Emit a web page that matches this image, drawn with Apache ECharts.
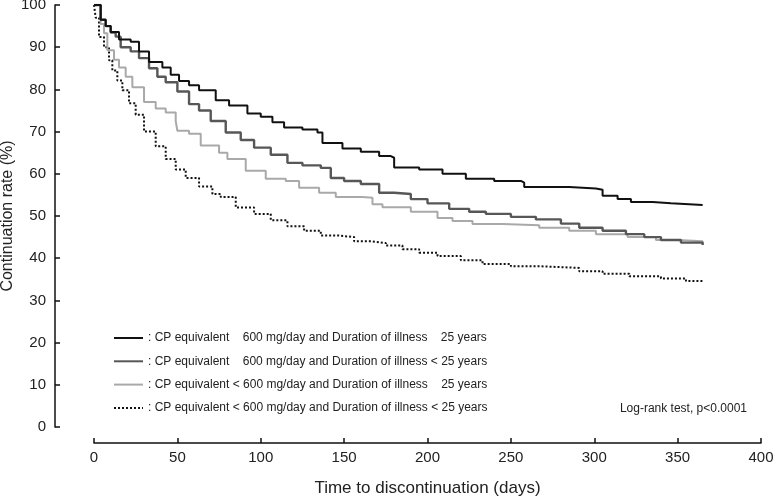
<!DOCTYPE html>
<html>
<head>
<meta charset="utf-8">
<script src="https://cdn.jsdelivr.net/npm/echarts@6/dist/echarts.min.js"></script>
<style>
html,body{margin:0;padding:0;background:#fff;}
#chart{width:775px;height:500px;}
</style>
</head>
<body>
<div id="chart"></div>
<script>
// Kaplan-Meier style continuation curves: [day, continuation rate %]
var seriesNames = [
  ': CP equivalent    600 mg/day and Duration of illness    25 years',
  ': CP equivalent    600 mg/day and Duration of illness < 25 years',
  ': CP equivalent < 600 mg/day and Duration of illness    25 years',
  ': CP equivalent < 600 mg/day and Duration of illness < 25 years'
];

var curveHighDoseLongIllness = [
  [0,100],[2,100],[4,96.5],[7,95],[10,93.6],[15,91.8],[22,91.3],[27,89],[33,86.5],[41,85.2],
  [46,83.5],[51,82],[57,81],[63,79.8],[73,77.4],[81,76.2],[92,74.3],[100,73.5],[107,72.2],
  [114,71],[125,70.5],[134,69.8],[137,67.3],[149,66],[160,65.2],[171,64.2],[178,63.8],
  [180,61.5],[195,61],[209,60],[223,58.8],[240,58.3],[256,57.9],[258,56.9],[285,56.5],
  [301,56.2],[305,54.8],[314,54],[322,53.3],[335,53],[346,52.6],[365,52.6]
];

var curveHighDoseShortIllness = [
  [0,100],[2,100],[4,96.5],[7,95],[10,93.5],[13,92.5],[16,90],[22,89],[27,87.4],[33,85],
  [38,83],[43,81.7],[50,79.5],[57,76.5],[63,75],[70,72.5],[79,69.8],[88,68],[96,66.2],
  [106,64.5],[116,62.6],[125,62],[136,61.4],[142,59],[150,58.3],[160,57.6],[171,55.5],
  [180,55.2],[190,54],[200,53],[213,51.7],[225,51],[235,50.5],[250,49.8],[265,49.2],
  [280,48.2],[291,47.2],[305,46.5],[319,45.7],[330,45],[340,44.3],[352,43.7],[365,43.1]
];

var curveLowDoseLongIllness = [
  [0,100],[2,100],[4,95.5],[6,93.3],[8,89.3],[12,87],[15,85.2],[19,83],[23,80.5],[30,77],
  [37,75.5],[43,74.5],[49,72.5],[50,70.2],[57,69.5],[64,66.7],[75,65],[80,63.5],[91,60.7],
  [103,58.8],[115,58.3],[123,56.7],[135,55.5],[145,54.5],[161,54.3],[167,52.8],[173,52.1],
  [190,51],[206,49.5],[215,48.8],[227,48.1],[245,47.8],[267,47.2],[285,46.5],[301,45.7],
  [320,45],[337,44.3],[350,44],[365,43.6]
];

var curveLowDoseShortIllness = [
  [0,100],[1,97],[3,92.4],[6,90],[9,86.9],[11,84.5],[14,82.1],[17,79.8],[21,76.7],[25,74],
  [30,70],[37,66.5],[43,63.5],[49,61],[55,59],[63,57],[71,55.2],[76,54.5],[85,52],[96,50.5],
  [106,49],[116,47.6],[126,46.5],[136,45.4],[146,45],[156,44],[166,43.6],[175,43],[185,42.1],
  [195,41.3],[206,40.5],[220,39.5],[233,38.6],[250,38.1],[267,37.7],[291,36.9],[305,36.3],
  [321,35.7],[340,35.2],[355,34.6],[365,34.3]
];

var xTicks = [0, 50, 100, 150, 200, 250, 300, 350, 400];
var yTicks = [0, 10, 20, 30, 40, 50, 60, 70, 80, 90, 100];
var annotation = 'Log-rank test, p<0.0001';

var FONT = 'Liberation Sans, Arial, sans-serif';
var chart = echarts.init(document.getElementById('chart'), null, {renderer: 'canvas'});

var lineStyles = [
  {color: '#111111', width: 2, type: 'solid'},
  {color: '#575757', width: 2.4, type: 'solid'},
  {color: '#a9a9a9', width: 2, type: 'solid'},
  {color: '#111111', width: 2, type: [2, 2]}
];
var curves = [curveHighDoseLongIllness, curveHighDoseShortIllness, curveLowDoseLongIllness, curveLowDoseShortIllness];

var series = curves.map(function (c, i) {
  return {
    name: seriesNames[i],
    type: 'line',
    step: 'end',
    data: c,
    symbol: 'none',
    showSymbol: false,
    animation: false,
    lineStyle: lineStyles[i],
    itemStyle: {color: lineStyles[i].color},
    z: 4 - i
  };
});

chart.setOption({
  animation: false,
  backgroundColor: '#ffffff',
  grid: {left: 94, right: 14, top: 5, bottom: 73, containLabel: false, outerBoundsMode: 'none'},
  xAxis: {
    type: 'value',
    min: xTicks[0],
    max: xTicks[xTicks.length - 1],
    interval: 50,
    offset: 16,
    name: 'Time to discontinuation (days)',
    nameLocation: 'middle',
    nameGap: 37,
    nameMoveOverlap: false,
    nameTextStyle: {fontFamily: FONT, fontSize: 17, color: '#222'},
    axisLine: {show: true, onZero: false, lineStyle: {color: '#111', width: 1.5}},
    axisTick: {show: true, inside: true, length: 5, lineStyle: {color: '#111', width: 1.5}},
    axisLabel: {fontFamily: FONT, fontSize: 15, color: '#222', margin: 7},
    splitLine: {show: false}
  },
  yAxis: {
    type: 'value',
    min: yTicks[0],
    max: yTicks[yTicks.length - 1],
    interval: 10,
    offset: 39,
    name: 'Continuation rate (%)',
    nameLocation: 'middle',
    nameGap: 39,
    nameMoveOverlap: false,
    nameTextStyle: {fontFamily: FONT, fontSize: 16, color: '#222'},
    axisLine: {show: true, onZero: false, lineStyle: {color: '#111', width: 1.5}},
    axisTick: {show: true, inside: true, length: 5, lineStyle: {color: '#111', width: 1.5}},
    axisLabel: {fontFamily: FONT, fontSize: 15, color: '#222', margin: 9},
    splitLine: {show: false}
  },
  legend: {
    orient: 'vertical',
    left: 108,
    top: 327,
    itemWidth: 29,
    itemHeight: 14,
    itemGap: 11.3,
    itemStyle: {opacity: 0, borderWidth: 0},
    textStyle: {fontFamily: FONT, fontSize: 12, color: '#222'},
    data: seriesNames,
    selectedMode: false
  },
  graphic: [{
    type: 'text',
    right: 28,
    top: 403,
    style: {text: annotation, font: '12px ' + FONT, fill: '#222'}
  }],
  series: series
});
</script>
</body>
</html>
